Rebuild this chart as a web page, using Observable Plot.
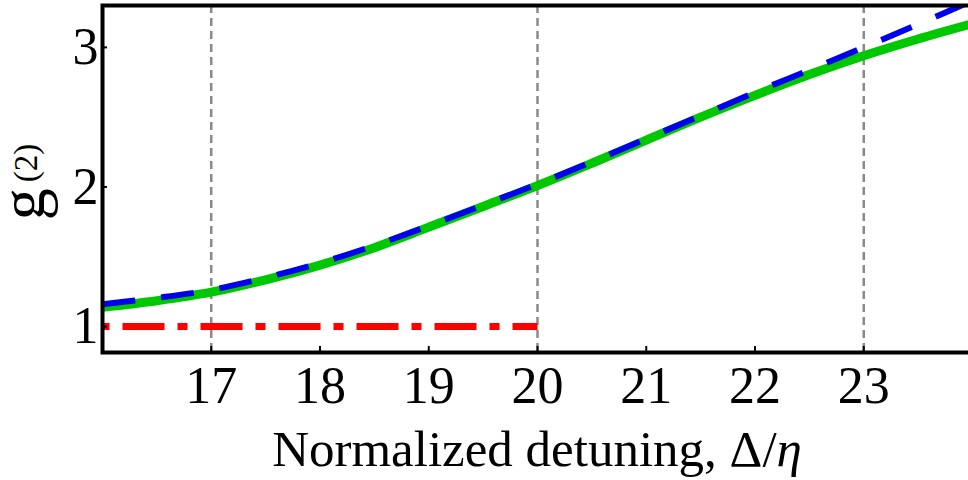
<!DOCTYPE html>
<html><head><meta charset="utf-8">
<script src="https://cdn.jsdelivr.net/npm/d3@7"></script>
<script src="https://cdn.jsdelivr.net/npm/@observablehq/plot@0.6"></script>
<style>html,body{margin:0;padding:0;background:#fff;overflow:hidden;width:968px;height:480px}</style>
</head><body><div id="chart"></div>
<script>
// Data
const detuning = [16, 16.5, 17, 17.5, 18, 18.5, 19, 19.5, 20, 20.5, 21, 21.5, 22, 22.5, 23, 23.5, 24];
const g2Green  = [1.138, 1.185, 1.246, 1.335, 1.440, 1.565, 1.712, 1.860, 2.010, 2.170, 2.335, 2.500, 2.656, 2.805, 2.940, 3.060, 3.170];
const g2Blue   = [1.160, 1.205, 1.262, 1.350, 1.455, 1.580, 1.722, 1.870, 2.020, 2.180, 2.345, 2.510, 2.678, 2.838, 3.000, 3.165, 3.335];
const refX = [16, 20];
const refY = [1, 1];
const gridX = [17, 20, 23];
const xTicks = [17, 18, 19, 20, 21, 22, 23];
const yTicks = [1, 2, 3];
const xLabelMain = "Normalized detuning, Δ/";
const xLabelItalic = "η";
const yLabelMain = "g";
const yLabelSup = "(2)";

const green = detuning.map((x, i) => ({x, y: g2Green[i]}));
const blue = detuning.map((x, i) => ({x, y: g2Blue[i]}));
const red = refX.map((x, i) => ({x, y: refY[i]}));

const chart = Plot.plot({
  width: 968, height: 480,
  marginLeft: 102, marginRight: -4, marginTop: 5, marginBottom: 128,
  style: {fontFamily: "'Liberation Serif', 'Times New Roman', serif", background: "white", color: "black"},
  x: {domain: [16, 24]},
  y: {domain: [0.814, 3.30]},
  marks: [
    Plot.ruleX(gridX, {stroke: "#8a8a8a", strokeWidth: 2.5, strokeDasharray: "8,5"}),
    Plot.line(red, {x: "x", y: "y", stroke: "#ff0000", strokeWidth: 7, strokeDasharray: "42,13,10,13", strokeDashoffset: 58, strokeLinecap: "butt"}),
    Plot.line(green, {x: "x", y: "y", stroke: "#00c800", strokeWidth: 9, curve: "catmull-rom", clip: true}),
    Plot.line(blue, {x: "x", y: "y", stroke: "#0000f0", strokeWidth: 6, strokeDasharray: "33,26", strokeLinecap: "butt", curve: "catmull-rom", clip: true}),
    Plot.frame({stroke: "black", strokeWidth: 4}),
    Plot.axisX(xTicks, {tickSize: -6, tickPadding: 20, fontSize: 52, label: null, strokeWidth: 2, tickFormat: "d"}),
    Plot.axisY(yTicks, {tickSize: -5, tickPadding: 9, fontSize: 52, label: null, strokeWidth: 2, tickFormat: "d"})
  ]
});
document.getElementById("chart").appendChild(chart);

const svg = d3.select(chart);
const xr = chart.scale("x").range;
const xl = svg.append("text")
  .attr("x", (xr[0] + xr[1]) / 2).attr("y", 466)
  .attr("text-anchor", "middle")
  .attr("font-size", 51)
  .attr("fill", "black");
xl.append("tspan").text(xLabelMain);
xl.append("tspan").attr("font-style", "italic").text(xLabelItalic);

const yl = svg.append("text")
  .attr("transform", "translate(44,182) rotate(-90)")
  .attr("text-anchor", "middle")
  .attr("fill", "black");
yl.append("tspan").attr("font-size", 64).text(yLabelMain);
yl.append("tspan").attr("font-size", 33).attr("dy", -7).attr("dx", 6).text(yLabelSup);
</script>
</body></html>
